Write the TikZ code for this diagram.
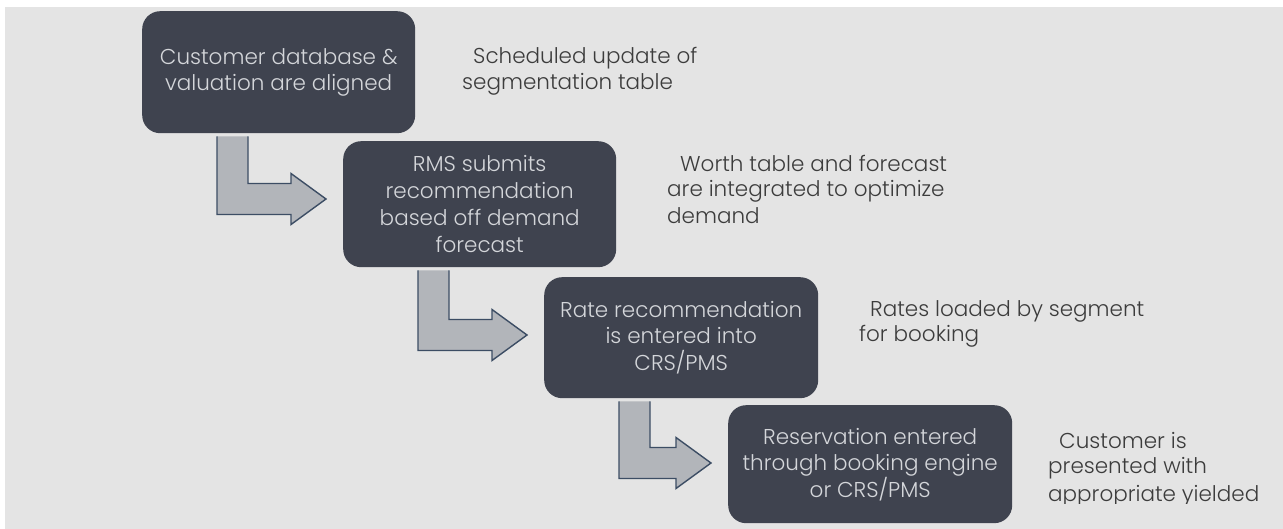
\documentclass[tikz,border=0pt]{standalone}
\usepackage{fontspec}
\setmainfont{Poppins}[UprightFont=* Light]
\usetikzlibrary{calc}

\definecolor{panelgray}{HTML}{E4E4E4}
\definecolor{boxfill}{HTML}{3F434F}
\definecolor{boxtext}{HTML}{D4D6DA}
\definecolor{notetext}{HTML}{3C3C3C}
\definecolor{arrowfill}{HTML}{B2B5BA}
\definecolor{arrowline}{HTML}{3C4D64}

% bent arrow leaving the bottom of box #1 and pointing at the left side of box #2
\newcommand{\bentarrow}[2]{%
  \filldraw[bent] let \p1=(#1.south west), \p2=(#2.north west) in
    (\x1+106pt,\y1-3pt) -- (\x1+106pt,\y2-42.5pt) -- (\x2-52pt,\y2-42.5pt)
    -- (\x2-52pt,\y2-32.5pt) -- (\x2-17pt,\y2-58pt) -- (\x2-52pt,\y2-83.5pt)
    -- (\x2-52pt,\y2-73.5pt) -- (\x1+75pt,\y2-73.5pt) -- (\x1+75pt,\y1-3pt);
}

\begin{document}
\begin{tikzpicture}[x=1pt,y=-1pt,
  stepbox/.style={fill=boxfill, rounded corners=18pt, text=boxtext, align=center,
    inner sep=0pt, anchor=north west, font=\fontsize{21.5}{26.5}\selectfont},
  note/.style={anchor=base west, inner sep=0pt, text=notetext,
    font=\fontsize{21.5}{26}\selectfont},
  bent/.style={fill=arrowfill, draw=arrowline, line width=1.4pt, line join=miter}]

\useasboundingbox (0,0) rectangle (1283,529);
\fill[panelgray] (5,7) rectangle (1283,529);

% process steps
\node[stepbox, minimum width=273pt, minimum height=122pt] (b1) at (142,11)
  {Customer database \&\\valuation are aligned};
\node[stepbox, minimum width=273pt, minimum height=126pt,
      font=\fontsize{21.5}{27}\selectfont] (b2) at (343,141)
  {RMS submits\\recommendation\\based off demand\\forecast};
\node[stepbox, minimum width=274pt, minimum height=121pt] (b3) at (544,277)
  {Rate recommendation\\is entered into\\CRS/PMS};
\node[stepbox, minimum width=284pt, minimum height=118pt] (b4) at (728,405)
  {Reservation entered\\through booking engine\\or CRS/PMS};

% connectors between the steps
\bentarrow{b1}{b2}
\bentarrow{b2}{b3}
\bentarrow{b3}{b4}

% side notes
\node[note] (n1a) at (473,64) {Scheduled update of};
\node[note] (n1b) at (462,90) {segmentation table};

\node[note] (n2a) at (680,172) {Worth table and forecast};
\node[note] (n2b) at (667,197) {are integrated to optimize};
\node[note] (n2c) at (667,224) {demand};

\node[note] (n3a) at (870,317) {Rates loaded by segment};
\node[note] (n3b) at (859,342) {for booking};

\begin{scope}
  \clip (1000,400) rectangle (1283,503);
  \node[note] (n4a) at (1059,448) {Customer is};
  \node[note] (n4b) at (1048,473) {presented with};
  \node[note] (n4c) at (1048,501) {appropriate yielded};
\end{scope}

\end{tikzpicture}
\end{document}
